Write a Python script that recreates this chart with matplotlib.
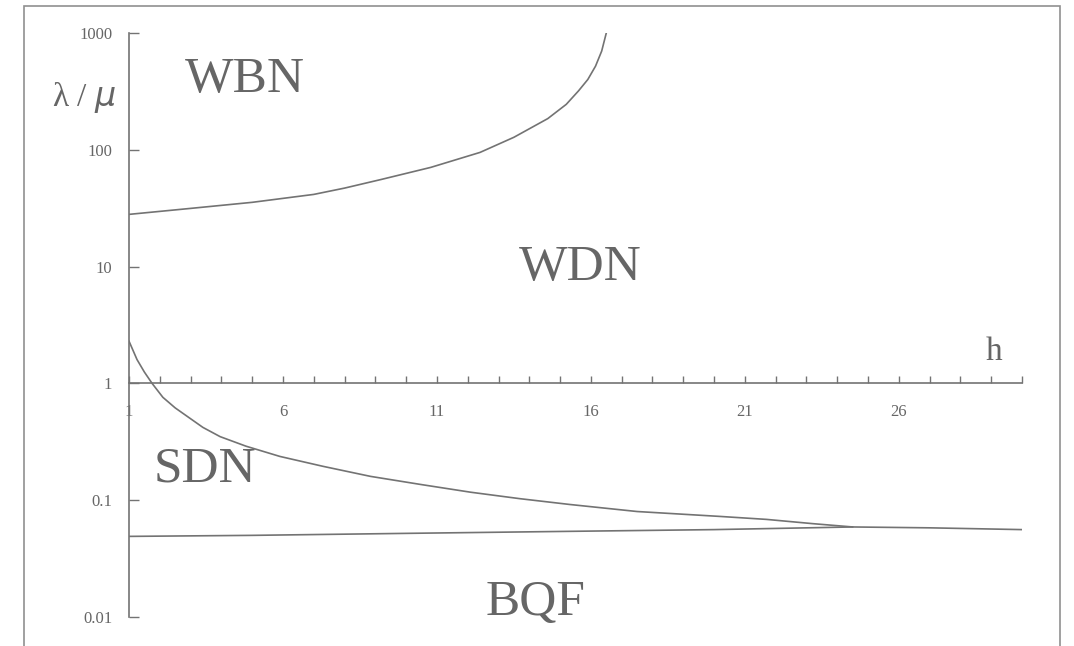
import numpy as np
import matplotlib
matplotlib.use('Agg')
import matplotlib.pyplot as plt
from matplotlib.patches import Rectangle

# 读取的曲线数据 (h, λ/μ)
h_wbn = [1, 3, 5, 7, 8, 9.2, 10.8, 12.4, 13.5, 14.6, 15.2, 15.6, 15.9, 16.15, 16.35, 16.5]
v_wbn = [28, 31.5, 35.5, 41.5, 47, 55.8, 70.7, 95, 128, 185, 245, 320, 400, 520, 700, 1000]

h_sdn = [1, 1.26, 1.5, 1.75, 2.1, 2.5, 2.9, 3.4, 3.96, 4.8, 5.9, 7.3, 8.84, 10.5, 12.1,
         13.7, 15.3, 17.5, 20.2, 21.7, 23.2, 24.5]
v_sdn = [2.3, 1.6, 1.25, 1.0, 0.76, 0.617, 0.52, 0.42, 0.35, 0.29, 0.237, 0.195, 0.16,
         0.136, 0.117, 0.103, 0.092, 0.080, 0.0726, 0.0685, 0.063, 0.059]

h_bqf = [1, 5, 10, 15, 20, 24.5, 27, 30]
v_bqf = [0.049, 0.050, 0.052, 0.054, 0.056, 0.059, 0.058, 0.056]

y_ticks = [0.01, 0.1, 1, 10, 100, 1000]
y_labels = ['0.01', '0.1', '1', '10', '100', '1000']
x_ticks = [1, 6, 11, 16, 21, 26]

region_names = ['WBN', 'WDN', 'SDN', 'BQF']
region_h = [4.77, 15.64, 3.47, 14.2]
region_v = [400, 9.8, 0.184, 0.0133]

plt.rcParams['font.family'] = ['Liberation Serif', 'DejaVu Serif']
gray = '#666666'
line_gray = '#737373'

fig = plt.figure(figsize=(10.74, 6.46), dpi=100)
ax = fig.add_axes([129/1074, 1 - 617/646, 893/1074, 584/646])

ax.plot(h_wbn, v_wbn, color=line_gray, lw=1.2)
ax.plot(h_sdn, v_sdn, color=line_gray, lw=1.2)
ax.plot(h_bqf, v_bqf, color=line_gray, lw=1.2)

ax.set_yscale('log')
ax.set_xlim(1, 30)
ax.set_ylim(0.01, 1000)

ax.spines['top'].set_visible(False)
ax.spines['right'].set_visible(False)
ax.spines['bottom'].set_position(('data', 1))
for s in ['left', 'bottom']:
    ax.spines[s].set_color(line_gray)
    ax.spines[s].set_linewidth(1.2)

ax.set_yticks(y_ticks)
ax.set_yticklabels(y_labels)
ax.yaxis.set_minor_locator(matplotlib.ticker.NullLocator())
ax.tick_params(axis='y', direction='in', length=7, width=1, color=line_gray,
               labelsize=12, labelcolor=gray, pad=12)

ax.set_xticks(x_ticks)
ax.set_xticklabels([str(x) for x in x_ticks])
ax.set_xticks(np.arange(1, 31), minor=True)
ax.tick_params(axis='x', which='both', direction='in', length=5, width=1,
               color=line_gray, labelsize=12, labelcolor=gray, pad=15)

for name, hx, vy in zip(region_names, region_h, region_v):
    ax.text(hx, vy, name, fontsize=37, color=gray, ha='center', va='center')

ax.text(29.1, 1.88, 'h', fontsize=24, color=gray, ha='center', va='center')
ax.text(-0.45, 280, 'λ / $\\mu$', fontsize=24, color=gray, ha='center', va='center',
        clip_on=False)

# 外框
fig.patches.append(Rectangle((24/1074, -0.05), (1060 - 24)/1074, 1.05 - 6/646,
                             transform=fig.transFigure, fill=False,
                             edgecolor='#909090', lw=1.2))

fig.savefig('out.png', dpi=100)
